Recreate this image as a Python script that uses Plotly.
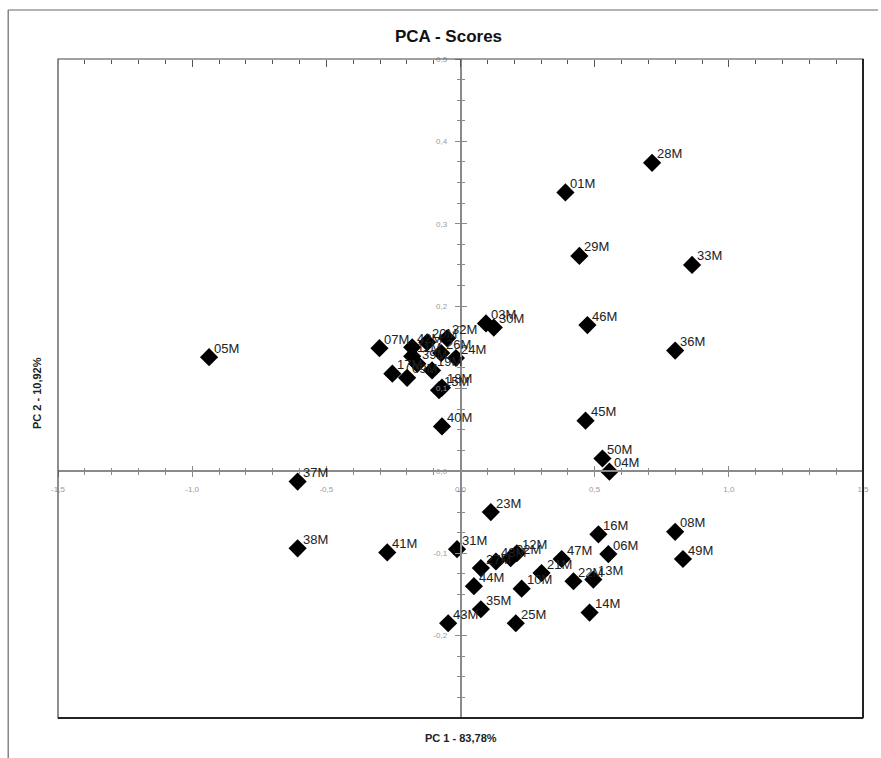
import plotly.graph_objects as go

# ---- data ----
samples = ["05M", "07M", "42M", "11M", "39M", "20M", "32M", "26M", "24M", "19M",
           "17M", "09M", "15M", "18M", "40M", "03M", "30M", "01M", "28M", "29M",
           "33M", "46M", "36M", "45M", "50M", "04M", "37M", "38M", "41M", "31M",
           "23M", "27M", "48M", "02M", "12M", "44M", "10M", "21M", "47M", "16M",
           "06M", "08M", "49M", "22M", "13M", "14M", "35M", "25M", "43M"]
pc1 = [-0.937, -0.302, -0.180, -0.180, -0.161, -0.124, -0.050, -0.072, -0.017, -0.106,
       -0.254, -0.199, -0.080, -0.069, -0.069, 0.095, 0.124, 0.391, 0.714, 0.443,
       0.863, 0.473, 0.800, 0.466, 0.529, 0.555, -0.607, -0.607, -0.273, -0.013,
       0.113, 0.076, 0.132, 0.187, 0.210, 0.050, 0.228, 0.302, 0.377, 0.514,
       0.551, 0.800, 0.829, 0.421, 0.495, 0.481, 0.076, 0.206, -0.046]
pc2 = [0.138, 0.149, 0.150, 0.139, 0.130, 0.156, 0.161, 0.143, 0.137, 0.122,
       0.118, 0.113, 0.098, 0.101, 0.054, 0.179, 0.174, 0.338, 0.374, 0.261,
       0.250, 0.177, 0.146, 0.061, 0.015, -0.001, -0.013, -0.094, -0.099, -0.095,
       -0.050, -0.118, -0.110, -0.106, -0.100, -0.140, -0.143, -0.124, -0.107, -0.077,
       -0.101, -0.074, -0.107, -0.134, -0.132, -0.172, -0.168, -0.185, -0.185]

x_tickvals = [-1.5, -1.0, -0.5, 0.0, 0.5, 1.0, 1.5]
x_ticktext = ["-1,5", "-1,0", "-0,5", "0,0", "0,5", "1,0", "1,5"]
y_tickvals = [-0.2, -0.1, 0.0, 0.1, 0.2, 0.3, 0.4, 0.5]
y_ticktext = ["-0,2", "-0,1", "0,0", "0,1", "0,2", "0,3", "0,4", "0,5"]

title_text = "PCA - Scores"
x_title = "PC 1 - 83,78%"
y_title = "PC 2 - 10,92%"

# ---- layout geometry ----
W, H = 881, 758
L, R, T, B = 58, 866, 59, 718
X_RANGE = [-1.5, 1.5]
Y_RANGE = [-0.3, 0.5]
pw, ph = R - L, B - T


def px_x(p):
    return (p - L) / pw


def px_y(p):
    return (B - p) / ph


x0_pos = (0 - Y_RANGE[0]) / (Y_RANGE[1] - Y_RANGE[0])
y0_pos = (0 - X_RANGE[0]) / (X_RANGE[1] - X_RANGE[0])

FONT = "Liberation Sans, Arial, sans-serif"
AX_COL = "#8a8a8a"
TICK_FONT = dict(family=FONT, size=8, color="#9a9a9a")

fig = go.Figure()
fig.add_trace(go.Scatter(
    x=pc1, y=pc2, text=samples, mode="markers",
    marker=dict(symbol="diamond", size=14, color="black"),
    hoverinfo="text", showlegend=False,
))

# point labels, slightly up-right of each marker
for name, xv, yv in zip(samples, pc1, pc2):
    fig.add_annotation(x=xv, y=yv, text=name, showarrow=False,
                       xanchor="left", yanchor="middle", xshift=3, yshift=9,
                       font=dict(family=FONT, size=13, color="#222222"))

common_x = dict(range=X_RANGE, showgrid=False, zeroline=False, fixedrange=True)
common_y = dict(range=Y_RANGE, showgrid=False, zeroline=False, fixedrange=True)

fig.update_layout(
    width=W, height=H,
    margin=dict(l=L, r=W - R, t=T, b=H - B),
    plot_bgcolor="white", paper_bgcolor="white",
    xaxis=dict(**common_x, anchor="free", position=x0_pos,
               showline=True, linecolor=AX_COL, linewidth=1.5,
               tickvals=x_tickvals, ticktext=x_ticktext, tickfont=TICK_FONT,
               ticks="outside", ticklen=5, tickcolor=AX_COL, tickwidth=1,
               ticklabelstandoff=6,
               minor=dict(dtick=0.1, ticks="outside", ticklen=3, tickcolor=AX_COL)),
    xaxis2=dict(**common_x, overlaying="x", anchor="free", position=x0_pos,
                showline=False, showticklabels=False,
                tickvals=x_tickvals, ticks="inside", ticklen=5, tickcolor=AX_COL,
                minor=dict(dtick=0.1, ticks="inside", ticklen=3, tickcolor=AX_COL)),
    xaxis3=dict(**common_x, overlaying="x", anchor="free", position=1, side="top",
                showline=False, showticklabels=False,
                tickvals=x_tickvals, ticks="inside", ticklen=7, tickcolor="#555555",
                minor=dict(dtick=0.1, ticks="inside", ticklen=4, tickcolor="#555555")),
    yaxis=dict(**common_y, anchor="free", position=y0_pos,
               showline=True, linecolor=AX_COL, linewidth=1.5,
               tickvals=y_tickvals, ticktext=y_ticktext, tickfont=TICK_FONT,
               ticks="outside", ticklen=5, tickcolor=AX_COL, tickwidth=1,
               ticklabelstandoff=6,
               minor=dict(dtick=0.025, ticks="outside", ticklen=3, tickcolor=AX_COL)),
    yaxis2=dict(**common_y, overlaying="y", anchor="free", position=y0_pos,
                showline=False, showticklabels=False,
                tickvals=y_tickvals, ticks="inside", ticklen=5, tickcolor=AX_COL,
                minor=dict(dtick=0.025, ticks="inside", ticklen=3, tickcolor=AX_COL)),
    title=dict(text="<b>" + title_text + "</b>", x=px_x(450), y=1 - 36 / H,
               xref="paper", yref="container", xanchor="center", yanchor="middle",
               font=dict(family=FONT, size=17, color="#111111")),
)

# dummy traces to activate overlay axes
fig.add_trace(go.Scatter(x=[None], y=[None], xaxis="x2", yaxis="y2", showlegend=False))
fig.add_trace(go.Scatter(x=[None], y=[None], xaxis="x3", yaxis="y", showlegend=False))

# axis titles
fig.add_annotation(text="<b>" + x_title + "</b>", xref="paper", yref="paper",
                   x=px_x(462), y=px_y(738), showarrow=False,
                   xanchor="center", yanchor="middle",
                   font=dict(family=FONT, size=11, color="#222222"))
fig.add_annotation(text="<b>" + y_title + "</b>", xref="paper", yref="paper",
                   x=px_x(37), y=px_y(393), showarrow=False, textangle=-90,
                   xanchor="center", yanchor="middle",
                   font=dict(family=FONT, size=11, color="#222222"))

# plot frame
fig.add_shape(type="rect", xref="paper", yref="paper", x0=0, x1=1, y0=0, y1=1,
              line=dict(color="#444444", width=1.2), layer="above")
fig.add_shape(type="line", xref="paper", yref="paper", x0=0, x1=1, y0=0, y1=0,
              line=dict(color="#222222", width=2), layer="above")
fig.add_shape(type="line", xref="paper", yref="paper", x0=1, x1=1, y0=0, y1=1,
              line=dict(color="#222222", width=2), layer="above")
# outer frame (top and left edges of the window)
fig.add_shape(type="line", xref="paper", yref="paper",
              x0=px_x(8), x1=px_x(8), y0=px_y(10), y1=px_y(758),
              line=dict(color="#666666", width=1.2))
fig.add_shape(type="line", xref="paper", yref="paper",
              x0=px_x(8), x1=px_x(881), y0=px_y(10), y1=px_y(10),
              line=dict(color="#666666", width=1.2))

fig.write_html("out.html")
